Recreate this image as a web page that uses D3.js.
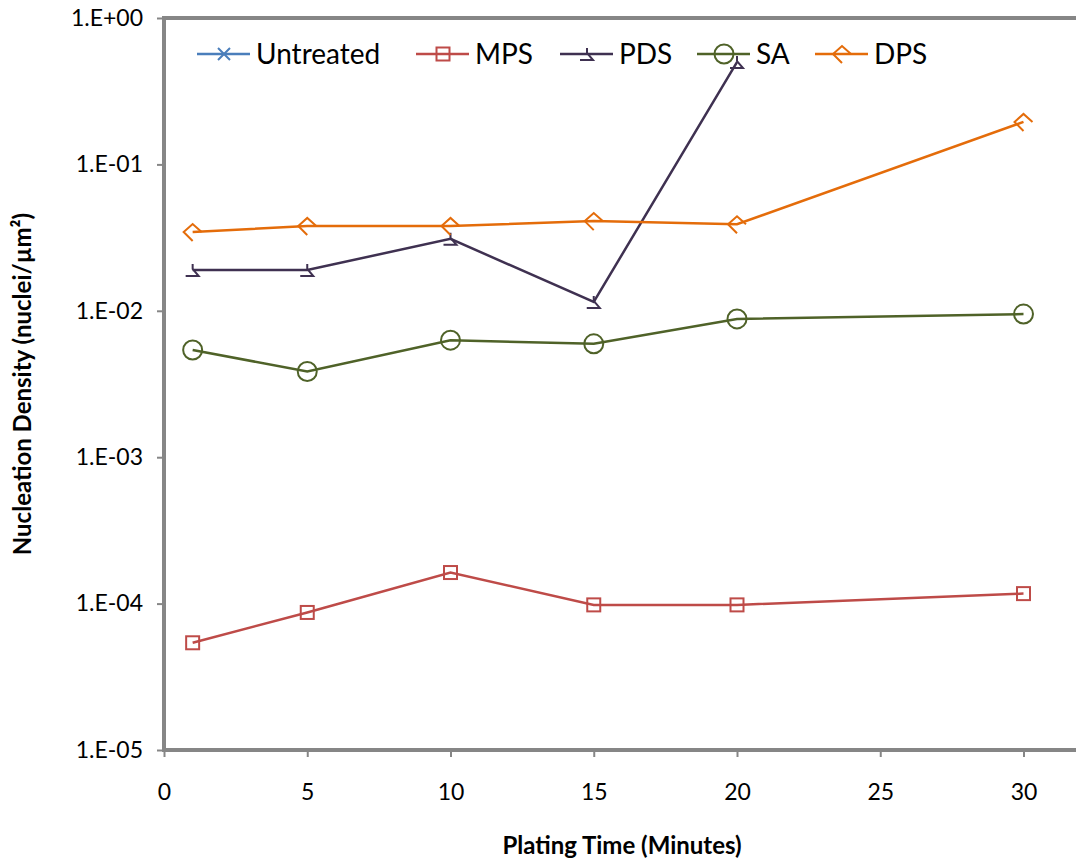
<!DOCTYPE html>
<html>
<head>
<meta charset="utf-8">
<script src="https://cdn.jsdelivr.net/npm/d3@7"></script>
<style>
  body { margin: 0; background: #fff; }
  svg { display: block; font-family: Lato, "Open Sans", sans-serif; }
</style>
</head>
<body>
<div id="chart"></div>
<script>
// Plating time (minutes)
var times = [1, 5, 10, 15, 20, 30];

// Nucleation density (nuclei/um2)
var untreated = [];
var mps = [5.4e-5, 8.7e-5, 1.63e-4, 9.8e-5, 9.8e-5, 1.17e-4];
var pds = [1.9e-2, 1.9e-2, 3.1e-2, 1.15e-2, 0.50];
var sa  = [5.4e-3, 3.85e-3, 6.3e-3, 5.95e-3, 8.8e-3, 9.5e-3];
var dps = [3.45e-2, 3.8e-2, 3.8e-2, 4.1e-2, 3.9e-2, 0.195];

var xTicks = [0, 5, 10, 15, 20, 25, 30];
var yTicks = [1e0, 1e-1, 1e-2, 1e-3, 1e-4, 1e-5];
var yTickLabels = ["1.E+00", "1.E-01", "1.E-02", "1.E-03", "1.E-04", "1.E-05"];

var series = [
  {name: "Untreated", values: untreated, color: "#4a7ebb", marker: "x"},
  {name: "MPS", values: mps, color: "#be4b48", marker: "square"},
  {name: "PDS", values: pds, color: "#3f3151", marker: "tri"},
  {name: "SA",  values: sa,  color: "#4f6228", marker: "circle"},
  {name: "DPS", values: dps, color: "#e46c0a", marker: "diamond"}
];

var W = 1076, H = 861;
var plotLeft = 164, plotTop = 18, plotBottom = 750;

var x = d3.scaleLinear().domain([0, 32]).range([plotLeft, plotLeft + 32 * 28.65]);
var y = d3.scaleLog().domain([1e-5, 1]).range([plotBottom, plotTop]);

var svg = d3.select("#chart").append("svg")
    .attr("width", W)
    .attr("height", H);

// markers drawn around (0,0)
function drawMarker(g, type, color) {
  if (type === "square") {
    g.append("rect").attr("x", -6.5).attr("y", -6.5).attr("width", 13).attr("height", 13)
      .attr("fill", "none").attr("stroke", color).attr("stroke-width", 2);
  } else if (type === "circle") {
    g.append("circle").attr("r", 9.5)
      .attr("fill", "none").attr("stroke", color).attr("stroke-width", 2);
  } else if (type === "tri") {
    g.append("path").attr("d", "M0,-6 L0,-1 L6,6 L-7,6")
      .attr("fill", "none").attr("stroke", color).attr("stroke-width", 2);
  } else if (type === "diamond") {
    g.append("path").attr("d", "M0,9 L-9,0 L0,-8 L9,0")
      .attr("fill", "none").attr("stroke", color).attr("stroke-width", 2);
  } else if (type === "x") {
    g.append("path").attr("d", "M-6,-6 L6,6 M-6,6 L6,-6")
      .attr("fill", "none").attr("stroke", color).attr("stroke-width", 2);
  }
}

// Axes
var yAxis = svg.append("g")
    .attr("transform", "translate(" + plotLeft + ",0)")
    .call(d3.axisLeft(y).tickValues(yTicks)
      .tickFormat(function(d, i) { return yTickLabels[i]; })
      .tickSize(7).tickPadding(14));

var xAxis = svg.append("g")
    .attr("transform", "translate(0," + plotBottom + ")")
    .call(d3.axisBottom(x).tickValues(xTicks).tickSize(7).tickPadding(27));

[xAxis, yAxis].forEach(function(a) {
  a.attr("font-family", null).attr("font-size", null);
  a.select(".domain").remove();
  a.selectAll(".tick line").attr("stroke", "#868686").attr("stroke-width", 2);
  a.selectAll(".tick text").attr("fill", "#000").style("font-size", "23px");
});

// plot frame
svg.append("line").attr("x1", plotLeft).attr("x2", W + 10).attr("y1", plotTop).attr("y2", plotTop)
  .attr("stroke", "#868686").attr("stroke-width", 4);
svg.append("line").attr("x1", plotLeft).attr("x2", W + 10).attr("y1", plotBottom).attr("y2", plotBottom)
  .attr("stroke", "#868686").attr("stroke-width", 4);
svg.append("line").attr("x1", plotLeft).attr("x2", plotLeft).attr("y1", plotTop - 2).attr("y2", plotBottom + 2)
  .attr("stroke", "#868686").attr("stroke-width", 4);

// Lines and markers
var line = d3.line()
    .x(function(d) { return x(d.t); })
    .y(function(d) { return y(d.v); });

series.forEach(function(s) {
  var pts = s.values.map(function(v, i) { return {t: times[i], v: v}; });
  svg.append("path")
    .datum(pts)
    .attr("fill", "none")
    .attr("stroke", s.color)
    .attr("stroke-width", 2.5)
    .attr("d", line);
  pts.forEach(function(p) {
    var g = svg.append("g").attr("transform", "translate(" + x(p.t) + "," + y(p.v) + ")");
    drawMarker(g, s.marker, s.color);
  });
});

// Legend
var legendX = [197, 416, 560, 697, 815];
series.forEach(function(s, i) {
  var g = svg.append("g").attr("transform", "translate(" + legendX[i] + ",54)");
  g.append("line").attr("x1", 0).attr("x2", 53).attr("y1", 0).attr("y2", 0)
    .attr("stroke", s.color).attr("stroke-width", 2.5);
  var m = g.append("g").attr("transform", "translate(27,0)");
  drawMarker(m, s.marker, s.color);
  g.append("text").attr("x", 59).attr("y", 0).attr("dy", "0.36em")
    .style("font-size", "28px").text(s.name);
});

// Axis titles
svg.append("text")
  .attr("x", 622).attr("y", 854)
  .attr("text-anchor", "middle")
  .style("font-size", "24px").style("font-weight", "bold")
  .text("Plating Time (Minutes)");

svg.append("text")
  .attr("transform", "translate(31,384)rotate(-90)")
  .attr("text-anchor", "middle")
  .style("font-size", "24px").style("font-weight", "bold")
  .text("Nucleation Density (nuclei/µm²)");
</script>
</body>
</html>
